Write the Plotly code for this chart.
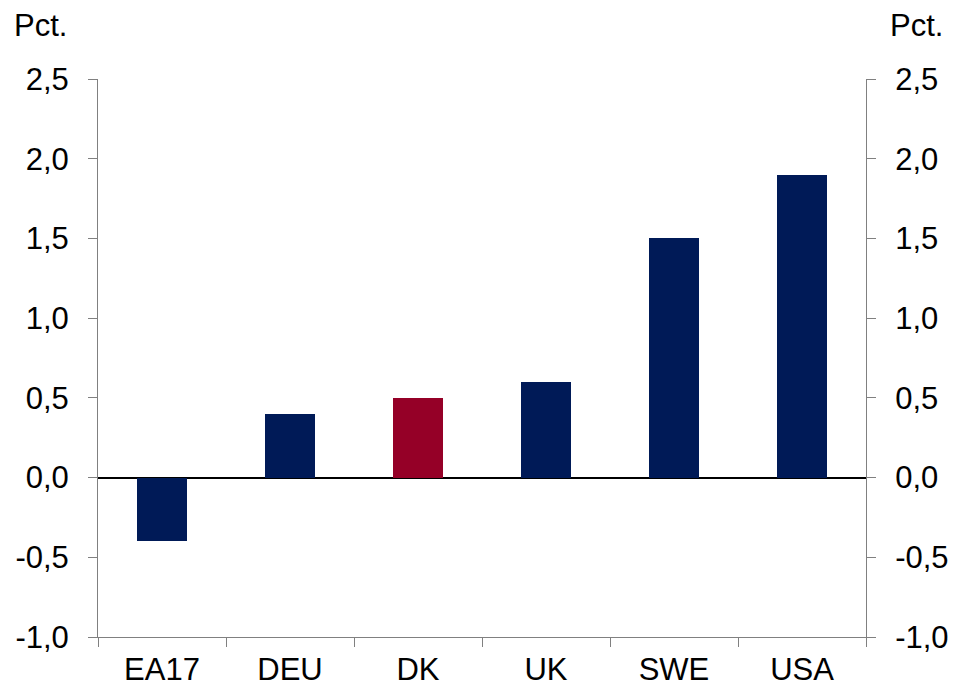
import plotly.graph_objects as go

categories = ["EA17", "DEU", "DK", "UK", "SWE", "USA"]
values = [-0.4, 0.4, 0.5, 0.6, 1.5, 1.9]
bar_colors = ["#001A57", "#001A57", "#950027", "#001A57", "#001A57", "#001A57"]
y_ticks = [-1.0, -0.5, 0.0, 0.5, 1.0, 1.5, 2.0, 2.5]
y_tick_labels = ["-1,0", "-0,5", "0,0", "0,5", "1,0", "1,5", "2,0", "2,5"]

font = dict(family="Liberation Sans, Arial, sans-serif", size=31, color="#000000")
axis_grey = "#808080"

fig = go.Figure()
fig.add_trace(go.Bar(
    x=categories,
    y=values,
    width=0.39,
    marker=dict(color=bar_colors, line=dict(width=0)),
    showlegend=False,
    hoverinfo="x+y",
))
# invisible trace to carry the right-hand axis
fig.add_trace(go.Scatter(
    x=categories, y=values, yaxis="y2",
    mode="markers", marker=dict(opacity=0), showlegend=False, hoverinfo="skip",
))

yaxis_common = dict(
    range=[-1.0, 2.5],
    tickvals=y_ticks,
    ticktext=y_tick_labels,
    showgrid=False,
    showline=True,
    linecolor=axis_grey,
    linewidth=1,
    ticks="outside",
    ticklen=9,
    tickcolor=axis_grey,
    tickfont=font,
    ticklabelstandoff=13,
    automargin=False,
)

fig.update_layout(
    width=953,
    height=689,
    paper_bgcolor="white",
    plot_bgcolor="white",
    margin=dict(l=98, r=87, t=79, b=52),
    font=font,
    bargap=0,
    xaxis=dict(
        type="category",
        showgrid=False,
        showline=True,
        linecolor=axis_grey,
        ticks="outside",
        tickson="boundaries",
        ticklen=9,
        tickcolor=axis_grey,
        tickfont=font,
        ticklabelstandoff=5,
        zeroline=False,
        automargin=False,
    ),
    yaxis=dict(
        **yaxis_common,
        zeroline=True,
        zerolinecolor="#000000",
        zerolinewidth=1.5,
    ),
    yaxis2=dict(
        **yaxis_common,
        overlaying="y",
        side="right",
        zeroline=False,
    ),
    annotations=[
        dict(text="Pct.", xref="paper", yref="paper", x=0, y=1.0, xshift=-86, yshift=54,
             xanchor="left", yanchor="middle", showarrow=False, font=font),
        dict(text="Pct.", xref="paper", yref="paper", x=1, y=1.0, xshift=79, yshift=54,
             xanchor="right", yanchor="middle", showarrow=False, font=font),
    ],
)

fig.write_html("out.html", config={"displayModeBar": False},
               post_script="document.body.style.margin='0';")
